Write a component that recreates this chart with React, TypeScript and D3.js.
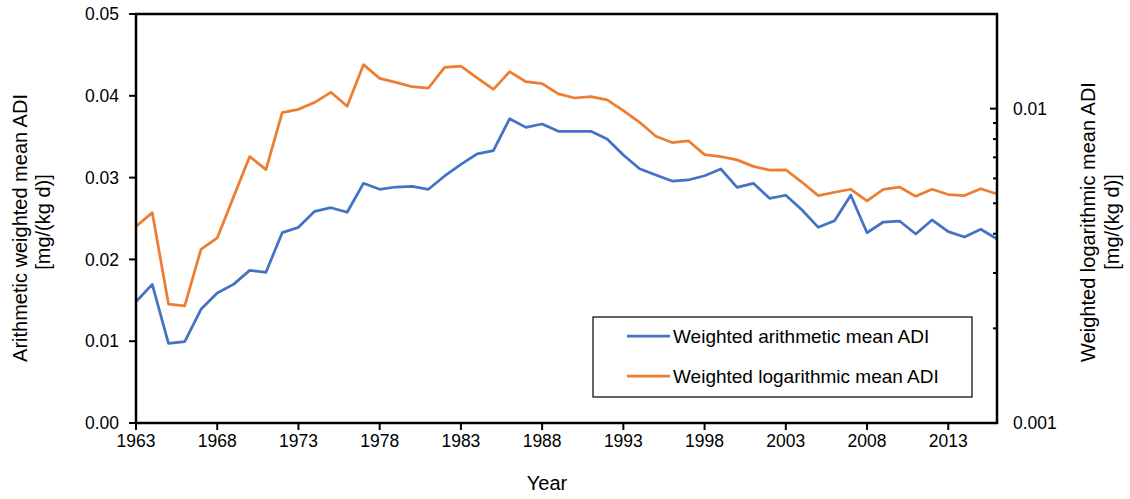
import React from "react";
import * as d3 from "d3";

const years: number[] = d3.range(1963, 2017);

const arithmeticADI: number[] = [
  0.01483, 0.01695, 0.00974, 0.00994, 0.0139, 0.0159, 0.01695, 0.01866, 0.01842, 0.02327,
  0.02392, 0.02588, 0.02632, 0.02576, 0.0293, 0.02857, 0.02885, 0.02893, 0.02857, 0.0302,
  0.03162, 0.03289, 0.0333, 0.0372, 0.03614, 0.03655, 0.03566, 0.03566, 0.03566, 0.03472,
  0.03276, 0.03109, 0.03032, 0.02958, 0.02971, 0.03023, 0.03105, 0.02881, 0.0293, 0.02747,
  0.02784, 0.02604, 0.02392, 0.02473, 0.02784, 0.02326, 0.02457, 0.02469, 0.0231, 0.02482,
  0.02339, 0.02274, 0.02368, 0.02249,
];

const logarithmicADI: number[] = [
  0.00422, 0.00467, 0.00239, 0.00236, 0.00357, 0.00388, 0.00523, 0.00704, 0.0064, 0.00971,
  0.00995, 0.01047, 0.01127, 0.01018, 0.0138, 0.01248, 0.01212, 0.01174, 0.01163, 0.01353,
  0.01366, 0.01252, 0.01151, 0.01311, 0.01218, 0.01201, 0.01114, 0.01081, 0.01092, 0.01066,
  0.00985, 0.00905, 0.00817, 0.0078, 0.0079, 0.00714, 0.00704, 0.00687, 0.00655, 0.00637,
  0.00639, 0.00583, 0.00529, 0.00542, 0.00554, 0.00509, 0.00554, 0.00563, 0.00526, 0.00554,
  0.00533, 0.00529, 0.00556, 0.00535,
];

const xTickYears: number[] = [1963, 1968, 1973, 1978, 1983, 1988, 1993, 1998, 2003, 2008, 2013];
const leftTicks: number[] = [0, 0.01, 0.02, 0.03, 0.04, 0.05];
const rightMajorTicks: number[] = [0.001, 0.01];
const rightMinorTicks: number[] = [0.002, 0.003, 0.004, 0.005, 0.006, 0.007, 0.008, 0.009, 0.02];

const seriesNames = ["Weighted arithmetic mean ADI", "Weighted logarithmic mean ADI"];
const seriesColors = ["#4472C4", "#ED7D31"];

const W = 1130;
const H = 499;
const M = { left: 136, right: 997, top: 14, bottom: 423 };
const FONT = "'Liberation Sans', Arial, sans-serif";
const TICK_FS = 17.5;
const TITLE_FS = 20;
const LEGEND_FS = 19;

export default function App() {
  const x = d3.scaleLinear().domain([1963, 2016]).range([M.left, M.right]);
  const yL = d3.scaleLinear().domain([0, 0.05]).range([M.bottom, M.top]);
  const yR = d3.scaleLog().domain([0.001, 0.02]).range([M.bottom, M.top]);

  const lineL = d3
    .line<number>()
    .x((_, i) => x(years[i]))
    .y((d) => yL(d));
  const lineR = d3
    .line<number>()
    .x((_, i) => x(years[i]))
    .y((d) => yR(d));

  const titleY = 222;

  return (
    <svg
      width={W}
      height={H}
      style={{ position: "absolute", left: 0, top: 0, background: "#fff" }}
      fontFamily={FONT}
    >
      <rect x={0} y={0} width={W} height={H} fill="#fff" />
      {/* lines */}
      <path d={lineL(arithmeticADI) ?? ""} fill="none" stroke={seriesColors[0]} strokeWidth={2.75} strokeLinejoin="round" />
      <path d={lineR(logarithmicADI) ?? ""} fill="none" stroke={seriesColors[1]} strokeWidth={2.75} strokeLinejoin="round" />

      {/* frame */}
      <line x1={M.left} x2={M.left} y1={M.top - 1} y2={M.bottom + 1} stroke="#000" strokeWidth={2.5} />
      <line x1={M.right} x2={M.right} y1={M.top - 1} y2={M.bottom + 1} stroke="#000" strokeWidth={2.5} />
      <line x1={M.left - 1} x2={M.right + 1} y1={M.top} y2={M.top} stroke="#000" strokeWidth={2.5} />
      <line x1={M.left - 1} x2={M.right + 1} y1={M.bottom} y2={M.bottom} stroke="#000" strokeWidth={2.5} />

      {/* left axis */}
      {leftTicks.map((t) => (
        <g key={"l" + t}>
          <line x1={M.left - 7} x2={M.left} y1={yL(t)} y2={yL(t)} stroke="#000" strokeWidth={2} />
          <text x={119} y={yL(t)} dy="0.35em" textAnchor="end" fontSize={TICK_FS} fill="#000">
            {t.toFixed(2)}
          </text>
        </g>
      ))}

      {/* bottom axis */}
      {xTickYears.map((yr) => (
        <g key={"x" + yr}>
          <line x1={x(yr)} x2={x(yr)} y1={M.bottom} y2={M.bottom + 7} stroke="#000" strokeWidth={2} />
          <text x={x(yr)} y={441} dy="0.35em" textAnchor="middle" fontSize={TICK_FS} fill="#000">
            {yr}
          </text>
        </g>
      ))}

      {/* right axis */}
      {rightMajorTicks.map((t) => (
        <g key={"r" + t}>
          <line x1={M.right - 7} x2={M.right} y1={yR(t)} y2={yR(t)} stroke="#000" strokeWidth={2} />
          <text x={1013} y={yR(t)} dy="0.35em" textAnchor="start" fontSize={TICK_FS} fill="#000">
            {t === 0.01 ? "0.01" : "0.001"}
          </text>
        </g>
      ))}
      {rightMinorTicks.map((t) => (
        <line key={"rm" + t} x1={M.right - 4} x2={M.right} y1={yR(t)} y2={yR(t)} stroke="#000" strokeWidth={2} />
      ))}

      {/* axis titles */}
      <text x={547} y={483} dy="0.35em" textAnchor="middle" fontSize={TITLE_FS} fill="#000">
        Year
      </text>
      <g transform={`translate(20, ${titleY + 6}) rotate(-90)`}>
        <text x={0} y={0} dy="0.35em" textAnchor="middle" fontSize={TITLE_FS} fill="#000">
          Arithmetic weighted mean ADI
        </text>
      </g>
      <g transform={`translate(43, ${titleY}) rotate(-90)`}>
        <text x={0} y={0} dy="0.35em" textAnchor="middle" fontSize={TITLE_FS} fill="#000">
          [mg/(kg d)]
        </text>
      </g>
      <g transform={`translate(1088, ${titleY}) rotate(-90)`}>
        <text x={0} y={0} dy="0.35em" textAnchor="middle" fontSize={TITLE_FS} fill="#000">
          Weighted logarithmic mean ADI
        </text>
      </g>
      <g transform={`translate(1112, ${titleY}) rotate(-90)`}>
        <text x={0} y={0} dy="0.35em" textAnchor="middle" fontSize={TITLE_FS} fill="#000">
          [mg/(kg d)]
        </text>
      </g>

      {/* legend */}
      <rect x={593} y={317} width={379} height={80} fill="#fff" stroke="#000" strokeWidth={1.2} />
      {seriesNames.map((name, i) => (
        <g key={name}>
          <line x1={627} x2={670} y1={336 + i * 40} y2={336 + i * 40} stroke={seriesColors[i]} strokeWidth={2.75} />
          <text x={673} y={336 + i * 40} dy="0.35em" fontSize={LEGEND_FS} fill="#000">
            {name}
          </text>
        </g>
      ))}
    </svg>
  );
}
